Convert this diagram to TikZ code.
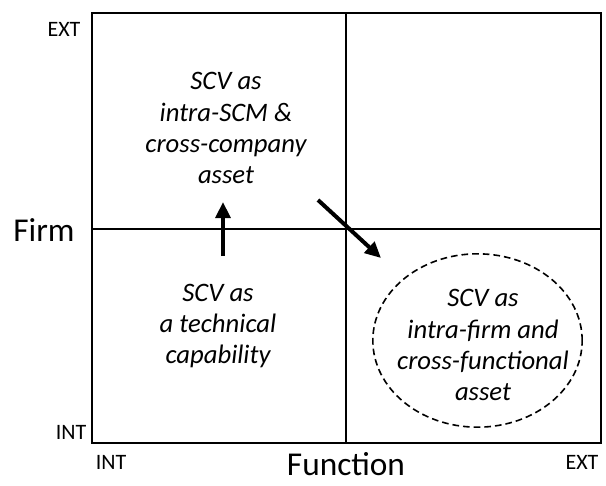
\documentclass[tikz,border=0pt]{standalone}
\usepackage{fontspec}
\setmainfont{Carlito}
\usetikzlibrary{arrows.meta,shapes.geometric}
\begin{document}
\begin{tikzpicture}[x=0.75pt,y=-0.75pt,
  frame/.style={line width=1.5pt},
  divider/.style={line width=1pt},
  axislabel/.style={font=\fontsize{16.5}{18}\selectfont, inner sep=0pt},
  axistitle/.style={font=\fontsize{25}{28}\selectfont, inner sep=0pt},
  quad/.style={font=\itshape\fontsize{20}{23.3}\selectfont, align=center, inner sep=0pt},
  move/.style={line width=3pt, -{Triangle[length=12pt,width=11pt]}},
  zone/.style={draw, dash pattern=on 5pt off 3pt, line width=1.2pt, ellipse, minimum width=157pt, minimum height=130pt, inner sep=0pt}]
\useasboundingbox (0,0) rectangle (606,485);
% quadrant frame and dividers
\draw[frame] (92,13) rectangle (601,443);
\draw[divider] (346,13) -- (346,443);
\draw[divider] (92,229) -- (601,229);
% axis labels
\node[axislabel] (ytop) at (64,29) {EXT};
\node[axislabel] (ybot) at (71,432) {INT};
\node[axislabel] (xleft) at (111,462) {INT};
\node[axislabel] (xright) at (582,462) {EXT};
\node[axistitle] (firm) at (44,230) {Firm};
\node[axistitle, anchor=base, text depth=0pt] (func) at (346,475) {Function};
% quadrant statements
\node[quad] (asset) at (226,128) {SCV as\\intra-SCM \&\\cross-company\\asset};
\node[quad] (tech) at (218,326) {SCV as\\a technical\\capability};
\node[zone] (ell) at (477.5,340.5) {};
\node[quad] (func2) at (483,345) {SCV as\\intra-firm and\\cross-functional\\asset};
% development paths
\coordinate (upA) at (223,256);
\coordinate (upB) at (223,202);
\coordinate (dgA) at (318,200);
\coordinate (dgB) at (381,258);
\draw[move] (upA) -- (upB);
\draw[move] (dgA) -- (dgB);
\end{tikzpicture}
\end{document}
